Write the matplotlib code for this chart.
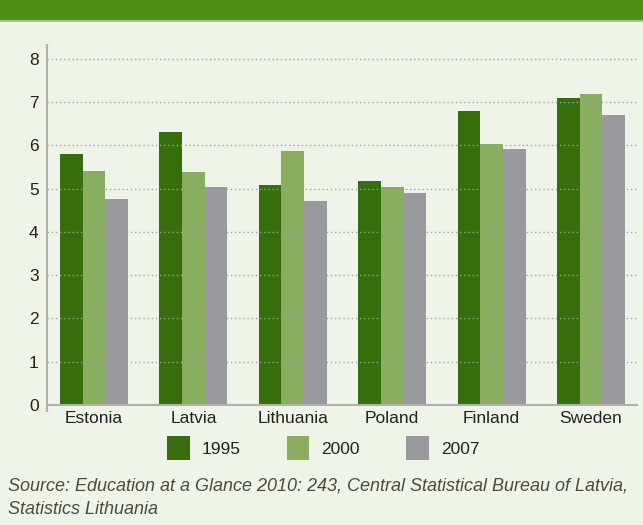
import matplotlib
matplotlib.use("Agg")
import matplotlib.pyplot as plt
import numpy as np
from matplotlib.patches import Rectangle

countries = ["Estonia", "Latvia", "Lithuania", "Poland", "Finland", "Sweden"]
years = ["1995", "2000", "2007"]
v1995 = [5.80, 6.30, 5.08, 5.17, 6.79, 7.09]
v2000 = [5.40, 5.38, 5.86, 5.03, 6.03, 7.18]
v2007 = [4.76, 5.03, 4.71, 4.90, 5.91, 6.70]
series = [v1995, v2000, v2007]
colors = ["#376e0c", "#89ae5f", "#9a999e"]
yticks = [0, 1, 2, 3, 4, 5, 6, 7, 8]
source = "Source: Education at a Glance 2010: 243, Central Statistical Bureau of Latvia,\nStatistics Lithuania"

BG = "#eff4e9"
plt.rcParams['font.family'] = ['Liberation Sans', 'DejaVu Sans']

fig = plt.figure(figsize=(6.43, 5.25), dpi=100, facecolor=BG)
# header band
fig.patches.append(Rectangle((0, 1 - 20/525), 1, 20/525, transform=fig.transFigure,
                             facecolor="#518f17", edgecolor="none", zorder=0))
fig.patches.append(Rectangle((0, 1 - 21.5/525), 1, 1.5/525, transform=fig.transFigure,
                             facecolor="#a9c98a", edgecolor="none", zorder=0))

ax = fig.add_axes([47/643, 1 - 405/525, (637-47)/643, (405-45)/525])
ax.set_facecolor(BG)

x = np.arange(len(countries))
w = 0.228
for i, (vals, c, lab) in enumerate(zip(series, colors, years)):
    ax.bar(x + (i - 1) * w, vals, width=w, color=c, label=lab, zorder=2, linewidth=0)

ax.set_xlim(-0.473, 5.463)
ax.set_ylim(0, 8.32)
ax.set_yticks(yticks)
ax.set_yticklabels([str(t) for t in yticks])
ax.set_xticks(x)
ax.set_xticklabels(countries)
for t in yticks[1:]:
    ax.axhline(t, color="#a0a0a0", linewidth=1.0, linestyle=(0, (1, 2)), zorder=3)

for s in ["top", "right"]:
    ax.spines[s].set_visible(False)
ax.spines["left"].set_color("#b0b0b0")
ax.spines["bottom"].set_color("#b0b0b0")
ax.spines["left"].set_linewidth(1.5)
ax.spines["bottom"].set_linewidth(1.5)
ax.spines["left"].set_bounds(-0.15, 8.32)
ax.tick_params(axis="both", length=0, labelsize=12.5, colors="#222222")
ax.tick_params(axis="y", pad=6)
ax.tick_params(axis="x", pad=4)

handles, labels = ax.get_legend_handles_labels()
fig.legend(handles, labels, loc="center", bbox_to_anchor=(323/643, 1 - 448/525), ncol=3,
           frameon=False, fontsize=12.5, handlelength=1.32, handleheight=1.75,
           handletextpad=0.69, columnspacing=2.64, labelcolor="#222222",
           borderpad=0, borderaxespad=0)

fig.text(8/643, 1 - 498/525, source, fontsize=13, style="italic", color="#4a4a4a",
         ha="left", va="center", linespacing=1.53)

fig.savefig("out.png", dpi=100, facecolor=BG)
